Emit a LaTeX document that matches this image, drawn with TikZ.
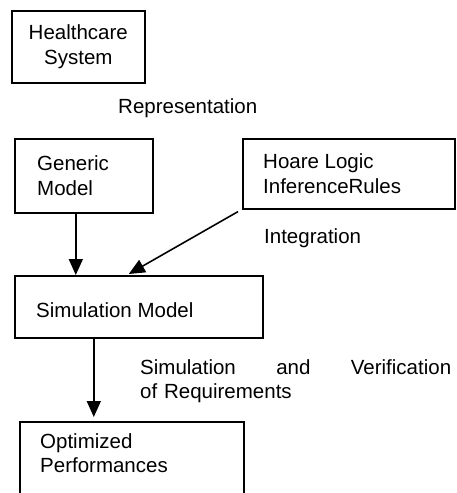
\documentclass[tikz,border=0pt]{standalone}
\usepackage{fontspec}
\setmainfont{Liberation Sans}
\usetikzlibrary{arrows.meta}
\begin{document}
\begin{tikzpicture}[x=1pt,y=-1pt,
  every node/.style={font=\fontsize{20.5}{24.5}\selectfont},
  box/.style={draw, line width=1.6pt, anchor=north west, inner sep=0pt},
  txt/.style={anchor=west, inner sep=0pt, align=left},
  lbl/.style={inner sep=0pt},
  arr/.style={line width=1.6pt, -{Triangle[width=14pt,length=16pt]}}]
\useasboundingbox (0,0) rectangle (456,493);

% boxes
\node[box, minimum width=133pt, minimum height=72pt, align=center] (health) at (11,10) {Healthcare\\System};
\node[box, minimum width=138pt, minimum height=74pt] (generic) at (14,138) {};
\node[box, minimum width=212pt, minimum height=70pt] (hoare) at (242,138) {};
\node[box, minimum width=248pt, minimum height=62pt] (sim) at (14,275) {};
\node[box, minimum width=224pt, minimum height=74pt] (opt) at (19,421) {};

% box contents, left aligned
\node[txt] (generictxt) at ([xshift=23pt]generic.west) {Generic\\Model};
\node[txt] (hoaretxt) at ([xshift=21pt]hoare.west) {Hoare Logic\\InferenceRules};
\node[txt] (simtxt) at ([shift={(22,3.5)}]sim.west) {Simulation Model};
\node[txt] (opttxt) at ([shift={(21,32)}]opt.north west) {Optimized\\Performances};

% free labels
\node[lbl, anchor=base west] (repr) at (118,113) {Representation};
\node[lbl, anchor=base west] (integ) at (264,243) {Integration};
\node[lbl, anchor=north west, text width=311pt, align=left] (simver) at (140,359)
  {Simulation\hfill and\hfill Verification\\of Requirements};

% connectors
\draw[arr] ([xshift=-8pt]generic.south) -- ([xshift=-8pt]generic.south |- sim.north);
\draw[arr] ([shift={(-4,2)}]hoare.south west) -- ([shift={(-10,-1)}]sim.north);
\draw[arr, shorten >=4pt] ([xshift=-45pt]sim.south) -- ([xshift=-45pt]sim.south |- opt.north);
\end{tikzpicture}
\end{document}
